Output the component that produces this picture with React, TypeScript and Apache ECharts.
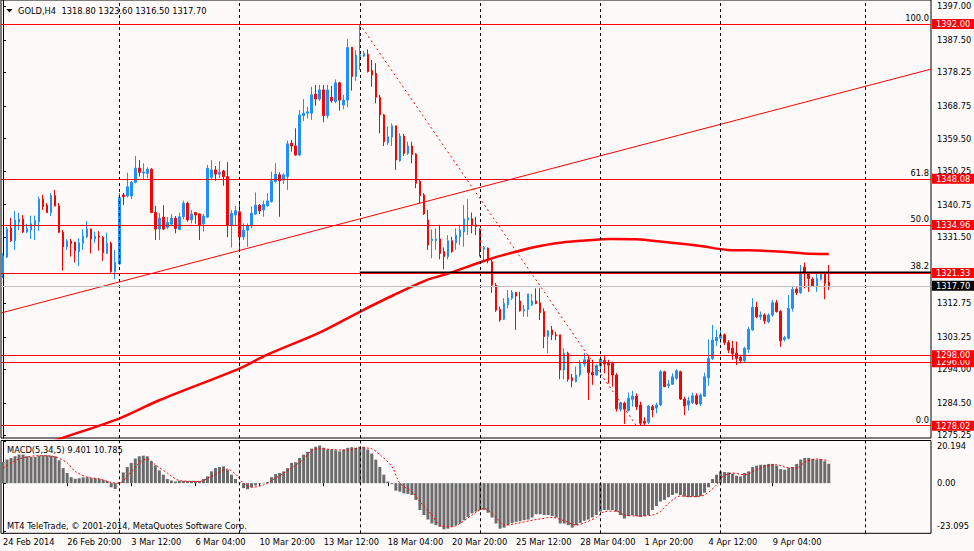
import React, { useEffect, useRef } from "react";
import * as echarts from "echarts";

const FONT = "DejaVu Sans";
const FS = 8.3;

const SYMBOL = "GOLD,H4";
const COPYRIGHT = "MT4 TeleTrade, \u00a9 2001-2014, MetaQuotes Software Corp.";

// time axis
const TIME_LABELS = [
  "24 Feb 2014", "26 Feb 20:00", "3 Mar 12:00", "6 Mar 04:00", "10 Mar 20:00",
  "13 Mar 12:00", "18 Mar 04:00", "20 Mar 20:00", "25 Mar 12:00", "28 Mar 04:00",
  "1 Apr 20:00", "4 Apr 12:00", "9 Apr 04:00",
];
const BARS_PER_LABEL = 16;
const SLOT_COUNT = 232; // bars + empty chart shift on the right
const GRID_COLUMNS = [29, 59, 89, 119, 149, 179, 215];

// H4 candles: [open, close, low, high]
const CANDLES: number[][] = [
  [1321.3, 1326.2, 1319.9, 1327.0], [1325.9, 1333.8, 1325.6, 1334.4], [1334.1, 1330.5, 1330.2, 1337.0], [1330.5, 1336.4, 1327.9, 1338.9],
  [1335.8, 1336.7, 1333.5, 1338.4], [1336.7, 1333.0, 1332.7, 1337.8], [1333.0, 1334.0, 1332.7, 1335.3], [1333.5, 1335.3, 1331.0, 1337.6],
  [1334.9, 1336.2, 1330.7, 1337.6], [1335.9, 1342.3, 1333.3, 1343.0], [1342.3, 1340.2, 1339.2, 1343.5], [1340.6, 1338.5, 1338.4, 1341.2],
  [1338.5, 1343.3, 1337.5, 1344.0], [1343.3, 1340.4, 1340.2, 1344.9], [1340.4, 1332.9, 1332.7, 1341.2], [1332.9, 1328.8, 1322.0, 1333.5],
  [1328.8, 1330.4, 1327.9, 1330.9], [1330.4, 1329.7, 1326.0, 1331.0], [1330.1, 1327.6, 1324.3, 1330.2], [1327.4, 1329.9, 1323.3, 1331.2],
  [1329.8, 1331.8, 1327.9, 1333.7], [1331.6, 1333.8, 1331.2, 1336.1], [1333.8, 1331.0, 1326.9, 1334.0], [1331.0, 1331.8, 1329.8, 1333.1],
  [1331.8, 1331.5, 1327.7, 1333.2], [1331.5, 1327.1, 1324.8, 1331.8], [1326.9, 1329.8, 1326.7, 1332.8], [1329.8, 1321.7, 1321.4, 1330.2],
  [1321.7, 1324.4, 1319.6, 1327.9], [1323.9, 1342.8, 1323.6, 1344.0], [1343.5, 1343.0, 1340.6, 1344.1], [1343.2, 1345.8, 1342.8, 1349.8],
  [1343.2, 1347.1, 1342.3, 1347.5], [1347.1, 1351.1, 1346.8, 1354.5], [1351.1, 1349.9, 1348.7, 1353.4], [1349.7, 1350.0, 1347.9, 1352.5],
  [1349.6, 1350.8, 1348.2, 1351.3], [1350.8, 1338.5, 1338.3, 1351.1], [1338.5, 1333.8, 1330.7, 1340.4], [1333.8, 1336.9, 1330.7, 1338.3],
  [1337.2, 1333.8, 1333.5, 1340.6], [1334.3, 1335.7, 1333.8, 1337.2], [1335.2, 1336.9, 1334.8, 1338.1], [1336.9, 1334.0, 1332.6, 1337.5],
  [1333.7, 1337.3, 1333.5, 1338.5], [1337.3, 1341.1, 1336.6, 1341.9], [1341.1, 1336.4, 1335.9, 1341.6], [1336.4, 1338.1, 1335.4, 1339.2],
  [1338.5, 1337.8, 1335.3, 1338.7], [1338.1, 1334.8, 1330.7, 1338.3], [1335.3, 1337.5, 1333.1, 1338.1], [1337.2, 1351.1, 1336.9, 1352.0],
  [1348.5, 1350.6, 1347.7, 1353.4], [1350.6, 1349.4, 1347.5, 1351.7], [1349.4, 1349.9, 1348.2, 1353.1], [1350.3, 1348.7, 1346.1, 1350.6],
  [1348.7, 1334.8, 1331.5, 1352.8], [1334.8, 1338.3, 1328.6, 1339.2], [1337.8, 1339.0, 1334.8, 1340.4], [1338.7, 1331.6, 1328.1, 1341.6],
  [1331.6, 1333.5, 1330.7, 1335.4], [1333.5, 1334.8, 1328.8, 1335.4], [1334.8, 1338.3, 1334.0, 1340.2], [1338.1, 1340.6, 1337.8, 1344.2],
  [1340.6, 1339.0, 1338.1, 1340.9], [1339.2, 1340.8, 1337.3, 1341.9], [1340.4, 1341.8, 1340.2, 1344.0], [1341.6, 1347.5, 1341.3, 1350.1],
  [1347.3, 1349.4, 1347.0, 1352.5], [1349.2, 1347.5, 1337.3, 1349.9], [1347.7, 1349.2, 1346.6, 1349.6], [1348.7, 1358.0, 1344.9, 1358.9],
  [1358.2, 1357.4, 1355.8, 1359.1], [1357.4, 1354.8, 1354.6, 1362.4], [1354.8, 1366.2, 1354.5, 1367.6], [1366.0, 1366.7, 1364.5, 1370.7],
  [1366.7, 1367.1, 1365.2, 1368.5], [1366.7, 1371.9, 1364.8, 1374.2], [1372.1, 1370.7, 1368.8, 1374.7], [1370.7, 1373.3, 1370.2, 1374.7],
  [1373.3, 1366.0, 1364.1, 1374.7], [1366.0, 1373.3, 1365.2, 1374.7], [1371.2, 1370.2, 1369.7, 1374.4], [1370.0, 1375.3, 1369.5, 1376.3],
  [1375.3, 1370.4, 1367.4, 1375.6], [1369.0, 1370.4, 1367.8, 1371.9], [1370.4, 1385.3, 1368.4, 1387.7], [1385.4, 1377.1, 1373.1, 1385.4],
  [1377.1, 1383.2, 1375.9, 1384.6], [1382.4, 1383.2, 1379.0, 1392.0], [1382.9, 1383.7, 1382.6, 1384.4], [1383.4, 1378.5, 1378.2, 1384.8],
  [1378.8, 1377.5, 1374.2, 1381.8], [1378.0, 1371.2, 1369.5, 1380.9], [1371.2, 1366.2, 1361.0, 1371.9], [1366.2, 1358.6, 1357.4, 1366.5],
  [1358.3, 1360.0, 1357.7, 1362.9], [1359.9, 1363.1, 1357.4, 1363.8], [1363.1, 1353.4, 1350.6, 1363.1], [1353.2, 1360.2, 1352.9, 1361.0],
  [1360.2, 1355.3, 1354.5, 1360.8], [1355.3, 1357.4, 1354.8, 1358.6], [1357.4, 1355.0, 1352.5, 1358.6], [1355.1, 1346.8, 1345.4, 1355.3],
  [1347.3, 1343.3, 1341.1, 1347.7], [1343.5, 1338.1, 1337.8, 1344.0], [1336.4, 1329.3, 1327.9, 1339.2], [1330.5, 1330.9, 1325.5, 1333.7],
  [1330.5, 1331.0, 1327.9, 1334.0], [1331.0, 1326.9, 1325.2, 1335.0], [1327.4, 1326.0, 1322.4, 1328.6], [1326.0, 1330.5, 1325.2, 1332.1],
  [1330.5, 1327.4, 1327.1, 1331.6], [1329.9, 1332.1, 1327.9, 1334.0], [1331.6, 1333.5, 1329.3, 1335.0], [1333.0, 1336.7, 1328.8, 1340.6],
  [1336.4, 1337.0, 1332.1, 1342.3], [1336.7, 1335.0, 1332.6, 1338.5], [1335.0, 1334.5, 1332.1, 1337.3], [1333.8, 1327.9, 1326.0, 1334.0],
  [1328.1, 1328.6, 1325.0, 1329.0], [1328.4, 1325.0, 1324.1, 1328.6], [1324.5, 1317.9, 1315.7, 1325.6], [1317.9, 1310.8, 1310.3, 1318.5],
  [1311.0, 1308.0, 1307.5, 1311.8], [1308.2, 1312.7, 1308.0, 1314.2], [1312.3, 1314.2, 1311.3, 1316.5], [1314.2, 1315.8, 1313.7, 1316.5],
  [1315.8, 1314.8, 1305.2, 1316.0], [1313.4, 1310.6, 1310.4, 1316.0], [1310.6, 1311.0, 1308.9, 1312.3], [1311.0, 1315.4, 1308.9, 1315.4],
  [1312.3, 1313.4, 1312.0, 1315.4], [1313.4, 1312.7, 1312.5, 1317.0], [1312.9, 1310.1, 1308.0, 1317.0], [1310.4, 1303.3, 1300.0, 1311.3],
  [1303.3, 1304.9, 1298.6, 1305.2], [1305.2, 1303.8, 1302.3, 1306.3], [1303.8, 1303.5, 1302.3, 1304.7], [1303.8, 1293.8, 1291.2, 1303.8],
  [1293.8, 1298.6, 1291.2, 1300.0], [1298.6, 1291.2, 1290.5, 1299.0], [1291.6, 1290.8, 1288.9, 1292.7], [1290.5, 1292.4, 1290.3, 1294.8],
  [1292.4, 1295.7, 1291.9, 1296.7], [1295.5, 1296.7, 1294.8, 1298.7], [1296.7, 1293.1, 1285.3, 1298.1], [1293.1, 1292.4, 1289.6, 1296.7],
  [1292.4, 1295.0, 1292.1, 1295.5], [1295.0, 1296.9, 1292.9, 1298.1], [1296.5, 1295.5, 1292.9, 1297.8], [1296.0, 1295.2, 1290.0, 1296.7],
  [1295.7, 1292.4, 1289.1, 1296.2], [1292.4, 1282.8, 1282.0, 1292.9], [1282.7, 1284.5, 1282.0, 1284.8], [1284.4, 1282.7, 1278.5, 1284.8],
  [1282.3, 1285.8, 1282.0, 1287.4], [1285.5, 1286.4, 1283.4, 1287.9], [1286.4, 1283.4, 1282.5, 1287.2], [1283.9, 1278.7, 1278.2, 1284.8],
  [1279.3, 1278.7, 1278.02, 1280.4], [1279.0, 1283.6, 1278.5, 1283.9], [1283.4, 1282.5, 1280.4, 1283.9], [1283.0, 1283.9, 1281.5, 1284.5],
  [1283.9, 1293.3, 1283.6, 1293.8], [1293.3, 1289.1, 1288.9, 1293.6], [1289.4, 1289.8, 1288.6, 1291.0], [1289.8, 1291.9, 1289.6, 1292.9],
  [1291.5, 1293.6, 1291.0, 1294.0], [1293.3, 1285.6, 1285.3, 1293.6], [1285.6, 1283.6, 1281.0, 1286.2], [1283.9, 1285.1, 1282.3, 1286.2],
  [1284.5, 1286.5, 1284.2, 1287.4], [1286.5, 1284.2, 1283.9, 1287.2], [1284.2, 1286.7, 1283.6, 1287.2], [1286.4, 1291.9, 1286.2, 1293.1],
  [1291.6, 1297.1, 1289.3, 1302.5], [1297.1, 1302.3, 1296.7, 1306.6], [1302.1, 1303.1, 1300.6, 1305.2], [1302.8, 1303.8, 1301.4, 1305.2],
  [1303.8, 1301.6, 1300.9, 1304.2], [1301.6, 1299.5, 1298.6, 1302.3], [1300.0, 1298.4, 1296.7, 1302.1], [1298.6, 1297.1, 1295.2, 1301.9],
  [1297.4, 1296.5, 1295.7, 1298.1], [1296.5, 1300.0, 1295.9, 1300.4], [1299.7, 1305.4, 1298.7, 1306.1], [1305.2, 1311.6, 1304.9, 1314.2],
  [1311.6, 1308.9, 1308.5, 1313.2], [1308.9, 1309.4, 1308.0, 1310.4], [1309.4, 1307.8, 1306.9, 1309.9], [1307.5, 1309.4, 1307.1, 1309.9],
  [1309.4, 1312.9, 1308.9, 1313.7], [1312.9, 1310.4, 1310.1, 1313.7], [1310.4, 1302.1, 1300.4, 1310.8], [1302.5, 1303.0, 1301.9, 1303.5],
  [1302.8, 1311.3, 1302.5, 1315.1], [1311.3, 1316.7, 1310.4, 1317.7], [1316.7, 1315.8, 1315.1, 1317.3], [1315.8, 1321.4, 1315.4, 1323.6],
  [1323.0, 1321.1, 1317.0, 1324.3], [1321.1, 1319.8, 1316.0, 1321.4], [1319.6, 1317.7, 1317.5, 1320.1], [1317.7, 1319.8, 1316.0, 1321.3],
  [1319.6, 1321.3, 1319.2, 1321.7], [1321.3, 1318.4, 1313.9, 1321.4], [1318.8, 1317.7, 1316.5, 1323.6],
];

// moving average (bar index, price)
const MA_LINE: number[][] = [
  [10, 1272.7], [15, 1274.6], [29.1, 1280.1], [39.1, 1285.3], [59.1, 1294.3], [65.8, 1298.1], [79.1, 1304.5],
  [89.1, 1310.4], [97.5, 1315.1], [105.8, 1319.4], [110, 1320.8], [119.1, 1324.4], [124.1, 1326.2], [133, 1328.8],
  [139.5, 1330.0], [144.5, 1330.5], [151.6, 1331.0], [157.9, 1330.9], [164.5, 1330.2], [174, 1329.0], [180.8, 1327.9],
  [186.1, 1327.8], [194.4, 1327.4], [199.9, 1326.9], [206, 1326.7],
];

// drawn objects (bar index, price)
const TREND_LINE: number[][] = [[-0.5, 1310.0], [231.5, 1379.2]];
const FIB_DIAGONAL: number[][] = [[89, 1392.0], [158, 1278.02]];
const BLACK_LEVEL: number[][] = [[89, 1321.55], [231.5, 1321.55]];
const RED_LEVELS = [1392.0, 1348.08, 1334.96, 1321.33, 1296.0, 1298.0, 1278.02];
const FIB_LEVELS = [1392.0, 1348.08, 1334.96, 1321.55, 1278.02];
const FIB_TEXT = ["100.0", "61.8", "50.0", "38.2", "0.0"];
const BID = 1317.7;

// price scale
const PRICE_MIN = 1274.52;
const PRICE_MAX = 1398.81;
const PRICE_TICKS = [1397.0, 1387.5, 1378.25, 1368.75, 1359.5, 1350.25, 1340.75, 1331.5, 1312.75, 1303.25, 1294.0, 1284.5, 1275.25];

// MACD(5,34,5)
const MACD_HIST = [
  10.2, 11.4, 12.2, 13.0, 13.8, 13.8, 13.0, 12.7, 12.7, 13.3,
  13.5, 13.5, 13.3, 13.0, 11.1, 7.3, 4.9, 2.9, 2.1, 2.4,
  2.8, 2.8, 2.4, 2.4, 2.1, 1.6, 1.1, -2.0, -2.8, 0.5,
  5.2, 7.8, 9.8, 11.9, 13.0, 13.3, 13.0, 10.6, 8.6, 6.2,
  4.1, 2.0, 1.3, 0.8, 1.1, 1.1, 1.1, 1.1, 1.1, 1.1,
  2.0, 3.3, 5.7, 7.3, 7.8, 8.1, 6.5, 4.1, 2.0, 0.3,
  -2.4, -2.9, -2.0, -1.1, -0.3, 0.2, 0.5, 2.9, 4.4, 4.9,
  5.7, 7.3, 9.8, 10.1, 12.2, 13.8, 15.1, 16.7, 17.6, 18.2,
  17.1, 16.3, 16.3, 15.9, 15.4, 16.3, 17.1, 17.4, 17.1, 17.6,
  17.6, 16.3, 14.3, 11.4, 7.8, 4.1, 0.8, -0.5, -3.6, -4.1,
  -4.9, -5.2, -5.7, -8.1, -13.0, -15.4, -17.6, -19.5, -20.3, -21.1,
  -22.3, -22.0, -21.1, -20.3, -19.5, -17.9, -16.3, -14.6, -13.8, -13.0,
  -13.0, -14.3, -16.6, -19.5, -22.0, -21.5, -20.3, -19.2, -18.7, -18.4,
  -17.9, -17.6, -16.6, -15.0, -15.0, -15.4, -15.4, -15.9, -16.6, -19.5,
  -19.5, -20.3, -21.5, -20.3, -19.2, -18.2, -17.6, -16.6, -15.4, -13.8,
  -13.0, -13.0, -13.0, -13.8, -15.4, -17.1, -15.9, -15.4, -15.9, -16.3,
  -15.9, -15.4, -13.0, -11.1, -8.9, -8.1, -6.8, -5.7, -4.9, -5.7,
  -6.5, -6.8, -6.5, -6.8, -6.2, -4.6, -2.0, 2.0, 4.1, 5.7,
  5.4, 5.2, 4.6, 3.6, 3.3, 4.9, 5.7, 7.8, 8.5, 8.9,
  8.9, 9.3, 9.3, 8.5, 6.8, 6.5, 7.3, 7.8, 9.3, 11.4,
  12.2, 12.2, 11.7, 11.4, 11.7, 10.6, 9.401,
];
const MACD_SIGNAL: number[][] = [
  [0, 7.3], [4, 11.7], [9, 13.3], [13, 12.7], [16, 9.8], [18, 5.7], [21, 2.9], [24, 2.1], [27, 0.3], [29, 0.0],
  [31, 3.3], [34, 9.8], [36, 11.7], [38, 8.9], [41, 4.9], [44, 1.3], [49, 0.8], [52, 3.3], [56, 6.8], [58, 4.4],
  [60, 0.0], [62, -2.0], [65, -0.8], [67, 1.3], [72, 7.3], [75, 11.7], [77, 15.8], [79, 16.6], [82, 16.3], [86, 15.9],
  [89, 17.1], [92, 16.6], [94, 13.8], [97, 8.1], [99, 0.0], [102, -4.1], [104, -8.9], [107, -15.4], [109, -20.3], [112, -21.1],
  [114, -19.5], [117, -15.4], [120, -12.2], [123, -16.6], [125, -20.3], [128, -19.5], [133, -17.6], [137, -16.6], [140, -18.2], [143, -20.3],
  [145, -19.2], [148, -16.6], [150, -13.8], [153, -13.5], [155, -15.4], [159, -15.9], [162, -15.4], [164, -13.8], [166, -9.8], [169, -6.2],
  [172, -6.5], [175, -5.7], [178, -0.8], [179, 2.4], [182, 4.9], [185, 4.1], [188, 6.5], [190, 8.1], [193, 8.9], [195, 7.8],
  [198, 7.3], [200, 10.1], [203, 11.7], [206, 10.785],
];
const MACD_MIN = -24.24;
const MACD_MAX = 20.63;
const MACD_TICKS = [20.194, 0, -23.095];
const MACD_TICK_TEXT = ["20.194", "0.00", "-23.095"];

const BULL = "#1e90ff";
const BEAR = "#ff0000";
const BG = "#fffafa";

function buildOption() {
  const slots = Array.from({ length: SLOT_COUNT }, (_, i) => String(i));
  const labelInterval = (index: number) =>
    index % BARS_PER_LABEL === 0 && index / BARS_PER_LABEL < TIME_LABELS.length;
  const last = CANDLES[CANDLES.length - 1];
  const header = `${SYMBOL}  ${last[0].toFixed(2)} ${last[3].toFixed(2)} ${last[2].toFixed(2)} ${last[1].toFixed(2)}`;
  const macdTitle = `MACD(5,34,5) ${MACD_HIST[MACD_HIST.length - 1].toFixed(3)} ${MACD_SIGNAL[MACD_SIGNAL.length - 1][1].toFixed(3)}`;

  const boxLabel = (text: string, bg: string) => ({
    show: true,
    position: "end",
    formatter: text,
    backgroundColor: bg,
    color: "#fff",
    fontFamily: FONT,
    fontSize: FS,
    lineHeight: 10,
    padding: [0, 4, 0, 4],
    distance: 1,
  });

  const vLines = (GRID_COLUMNS as number[]).map((i) => ({
    xAxis: i,
    lineStyle: { color: "#000", type: [3, 3], width: 1 },
    label: { show: false },
  }));

  const levelLines = RED_LEVELS.map((p) => ({
    yAxis: p,
    lineStyle: { color: "#ff0000", type: "solid", width: 1 },
    label: boxLabel(p.toFixed(2), "#ff0000"),
  }));

  const fibLabels = FIB_LEVELS.map((p, k) => ({
    yAxis: p,
    lineStyle: { color: "rgba(0,0,0,0)", width: 1, type: "solid" },
    label: {
      show: true,
      position: "insideEndTop",
      formatter: FIB_TEXT[k],
      color: "#000",
      fontFamily: FONT,
      fontSize: FS,
      distance: [2, 2],
    },
  }));

  const bidLine = {
    yAxis: BID,
    lineStyle: { color: "#c0c0c0", type: "solid", width: 1 },
    label: boxLabel(BID.toFixed(2), "#000"),
  };

  const axisText = { fontFamily: FONT, fontSize: FS, color: "#000" };

  return {
    animation: false,
    backgroundColor: BG,
    textStyle: { fontFamily: FONT, fontSize: FS, color: "#000" },
    grid: [
      { left: 1, top: 0, width: 930, height: 438, show: true, borderColor: "#000", borderWidth: 1, backgroundColor: "transparent", outerBoundsMode: "none", containLabel: false },
      { left: 1, top: 440.5, width: 930, height: 92.8, show: true, borderColor: "#000", borderWidth: 1, backgroundColor: "transparent", outerBoundsMode: "none", containLabel: false },
    ],
    xAxis: [
      {
        type: "category", gridIndex: 0, data: slots, boundaryGap: true,
        axisLine: { show: false }, axisTick: { show: false }, axisLabel: { show: false }, splitLine: { show: false },
      },
      {
        type: "category", gridIndex: 1, data: slots, boundaryGap: true,
        axisLine: { show: false },
        axisTick: { show: true, interval: labelInterval, alignWithLabel: true, length: 3, lineStyle: { color: "#000" } },
        axisLabel: {
          show: true, interval: labelInterval, align: "left", margin: 5, ...axisText,
          formatter: (_v: string, index: number) => TIME_LABELS[index / BARS_PER_LABEL] ?? "",
        },
        splitLine: { show: false },
      },
      { type: "value", gridIndex: 0, min: -0.5, max: SLOT_COUNT - 0.5, show: false, splitLine: { show: false } },
      { type: "value", gridIndex: 1, min: -0.5, max: SLOT_COUNT - 0.5, show: false, splitLine: { show: false } },
    ],
    yAxis: [
      {
        type: "value", gridIndex: 0, position: "right", min: PRICE_MIN, max: PRICE_MAX, scale: true,
        splitLine: { show: false },
        axisLine: { show: true, lineStyle: { color: "#000" } },
        axisTick: { show: true, customValues: PRICE_TICKS, length: 3, lineStyle: { color: "#000" } },
        axisLabel: { show: true, customValues: PRICE_TICKS, margin: 6, ...axisText, formatter: (v: number) => v.toFixed(2) },
      },
      {
        type: "value", gridIndex: 1, position: "right", min: MACD_MIN, max: MACD_MAX,
        splitLine: { show: false },
        axisLine: { show: true, lineStyle: { color: "#000" } },
        axisTick: { show: true, customValues: MACD_TICKS, length: 3, lineStyle: { color: "#000" } },
        axisLabel: {
          show: true, customValues: MACD_TICKS, margin: 6, lineHeight: 10, ...axisText,
          formatter: (v: number) => {
            let k = 0;
            for (let j = 0; j < MACD_TICKS.length; j++) if (Math.abs(MACD_TICKS[j] - v) < Math.abs(MACD_TICKS[k] - v)) k = j;
            if (k === 0) return "\n" + MACD_TICK_TEXT[k];
            if (k === MACD_TICKS.length - 1) return MACD_TICK_TEXT[k] + "\n";
            return MACD_TICK_TEXT[k];
          },
        },
      },
    ],
    series: [
      {
        name: "GOLD",
        type: "candlestick",
        xAxisIndex: 0,
        yAxisIndex: 0,
        data: CANDLES,
        barWidth: 2,
        z: 3,
        itemStyle: { color: BULL, color0: BEAR, borderColor: BULL, borderColor0: BEAR, borderColorDoji: BULL, borderWidth: 1 },
        markLine: {
          silent: true,
          symbol: ["none", "none"],
          animation: false,
          precision: 2,
          label: { show: false },
          data: [...vLines, bidLine, ...levelLines, ...fibLabels],
        },
      },
      {
        name: "MA",
        type: "line",
        xAxisIndex: 2,
        yAxisIndex: 0,
        data: MA_LINE,
        showSymbol: false,
        smooth: 0.3,
        z: 4,
        lineStyle: { color: "#ff0000", width: 2.5 },
      },
      {
        name: "Trend",
        type: "line",
        xAxisIndex: 2,
        yAxisIndex: 0,
        data: TREND_LINE,
        showSymbol: false,
        z: 4,
        lineStyle: { color: "#ff0000", width: 1 },
      },
      {
        name: "FibBase",
        type: "line",
        xAxisIndex: 2,
        yAxisIndex: 0,
        data: FIB_DIAGONAL,
        showSymbol: false,
        z: 4,
        lineStyle: { color: "#ff0000", width: 1, type: [2, 3] },
      },
      {
        name: "FibLevel",
        type: "line",
        xAxisIndex: 2,
        yAxisIndex: 0,
        data: BLACK_LEVEL,
        showSymbol: false,
        z: 4,
        lineStyle: { color: "#000", width: 1.5 },
      },
      {
        name: "MACD",
        type: "bar",
        xAxisIndex: 1,
        yAxisIndex: 1,
        data: MACD_HIST,
        barWidth: 3,
        itemStyle: { color: "#6b6b6b" },
        markLine: {
          silent: true,
          symbol: ["none", "none"],
          animation: false,
          label: { show: false },
          data: vLines,
        },
      },
      {
        name: "Signal",
        type: "line",
        xAxisIndex: 3,
        yAxisIndex: 1,
        data: MACD_SIGNAL,
        showSymbol: false,
        smooth: 0.3,
        z: 4,
        lineStyle: { color: "#ff0000", width: 1, type: [2, 2] },
      },
    ],
    graphic: [
      { type: "polygon", shape: { points: [[6.5, 9], [12.5, 9], [9.5, 12.5]] }, style: { fill: "#000" } },
      { type: "text", style: { x: 18, y: 10.7, text: header, fontFamily: FONT, fontSize: FS, fill: "#000", verticalAlign: "middle" } },
      { type: "text", style: { x: 7, y: 450, text: macdTitle, fontFamily: FONT, fontSize: FS, fill: "#000", verticalAlign: "middle" } },
      { type: "text", style: { x: 7, y: 526, text: COPYRIGHT, fontFamily: FONT, fontSize: FS, fill: "#000", verticalAlign: "middle" } },
    ],
  };
}

export default function App() {
  const ref = useRef<HTMLDivElement>(null);
  useEffect(() => {
    document.body.style.margin = "0";
    const chart = echarts.init(ref.current as HTMLDivElement, null, { renderer: "svg" });
    chart.setOption(buildOption() as any);
    return () => chart.dispose();
  }, []);
  return <div ref={ref} style={{ width: 974, height: 551, display: "block" }} />;
}
